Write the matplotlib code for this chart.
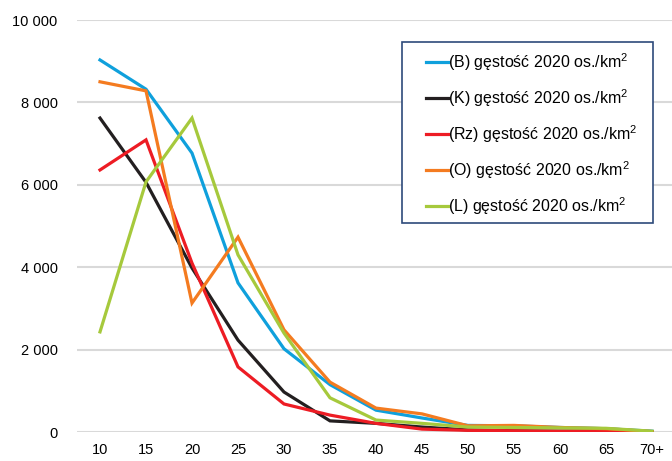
import matplotlib.pyplot as plt
from matplotlib.patches import Rectangle

plt.rcParams['font.family'] = ['Liberation Sans', 'DejaVu Sans']
plt.rcParams['mathtext.fontset'] = 'custom'
plt.rcParams['mathtext.rm'] = 'Liberation Sans'

ages = ['10', '15', '20', '25', '30', '35', '40', '45', '50', '55', '60', '65', '70+']

dens_b = [9030, 8320, 6770, 3620, 2020, 1150, 530, 340, 160, 150, 110, 80, 20]
dens_k = [7620, 6060, 3980, 2230, 970, 270, 210, 120, 50, 30, 20, 20, 10]
dens_rz = [6360, 7090, 4100, 1580, 680, 410, 210, 70, 40, 30, 20, 20, 10]
dens_o = [8500, 8280, 3130, 4730, 2480, 1210, 580, 440, 150, 160, 110, 80, 10]
dens_l = [2430, 6070, 7620, 4300, 2400, 830, 290, 210, 120, 110, 100, 90, 20]

series = [
    ('(B) gęstość 2020 os./km$^2$', dens_b, '#0FA0DC'),
    ('(K) gęstość 2020 os./km$^2$', dens_k, '#231F20'),
    ('(Rz) gęstość 2020 os./km$^2$', dens_rz, '#ED1C24'),
    ('(O) gęstość 2020 os./km$^2$', dens_o, '#F47B20'),
    ('(L) gęstość 2020 os./km$^2$', dens_l, '#A6C93C'),
]

fig = plt.figure(figsize=(6.72, 4.61), dpi=100)
ax = fig.add_axes([77 / 672, 29 / 461, 598 / 672, 412 / 461])

x = range(len(ages))
for label, vals, color in series:
    ax.plot(x, vals, color=color, lw=2.3, label=label, solid_joinstyle='miter')

ax.set_xlim(-0.5, len(ages) - 0.5)
ax.set_ylim(0, 10000)
ax.set_yticks(range(0, 10001, 2000))
ax.set_yticklabels(['0', '2 000', '4 000', '6 000', '8 000', '10 000'])
ax.set_xticks(list(x))
ax.set_xticklabels(ages)
ax.tick_params(length=0, labelsize=10.5, colors='#000000', pad=8)
ax.tick_params(axis='y', pad=14)
ax.grid(axis='y', color='#D9D9D9', lw=1.5)
ax.set_axisbelow(True)
for s in ax.spines.values():
    s.set_visible(False)

# legend box drawn separately so its size can be set freely
box = Rectangle((0.5435, 0.5073), 0.9632 - 0.5435, 0.9466 - 0.5073,
                transform=ax.transAxes, facecolor='white', edgecolor='#2E4A7A',
                lw=1.2, zorder=4)
ax.add_patch(box)
leg = ax.legend(loc='upper left', bbox_to_anchor=(0.5836, 0.925), fontsize=11.5,
                frameon=False, handlelength=1.4, handletextpad=0.0,
                labelspacing=0.90, borderpad=0, borderaxespad=0)
leg.set_zorder(5)

fig.savefig('out.png', dpi=100)
